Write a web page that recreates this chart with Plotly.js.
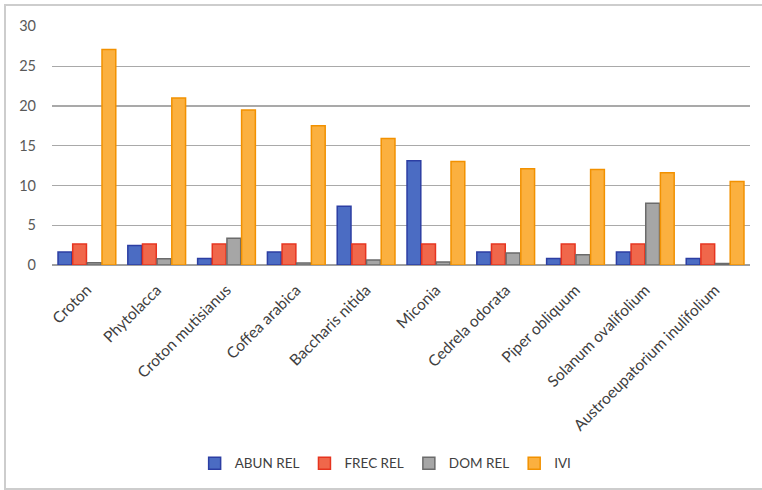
<!DOCTYPE html>
<html>
<head>
<meta charset="utf-8">
<script src="https://cdn.plot.ly/plotly-3.0.1.min.js"></script>
<style>
  html, body { margin: 0; padding: 0; background: #fff; overflow: hidden; }
  #wrap { position: relative; width: 762px; height: 490px; }
  #chart { position: absolute; left: 0; top: 0; width: 762px; height: 490px; }
  #frame {
    position: absolute; left: 4px; top: 4px; width: 780px; height: 482px;
    border: 2px solid #cdcdcd; border-right: none; pointer-events: none;
  }
</style>
</head>
<body>
<div id="wrap">
  <div id="chart"></div>
  <div id="frame"></div>
</div>
<script>
// Species (categories)
const species = [
  "Croton", "Phytolacca", "Croton mutisianus", "Coffea arabica", "Baccharis nitida",
  "Miconia", "Cedrela odorata", "Piper obliquum", "Solanum ovalifolium",
  "Austroeupatorium inulifolium"
];

// Relative abundance, frequency, dominance and importance value index
const abunRel = [1.64, 2.46, 0.82, 1.64, 7.38, 13.11, 1.64, 0.82, 1.64, 0.82];
const frecRel = [2.63, 2.63, 2.63, 2.63, 2.63, 2.63, 2.63, 2.63, 2.63, 2.63];
const domRel  = [0.28, 0.78, 3.35, 0.24, 0.63, 0.38, 1.52, 1.30, 7.76, 0.20];
const ivi     = [27.1, 21.0, 19.5, 17.5, 15.9, 13.0, 12.1, 12.0, 11.6, 10.5];

const seriesNames = ["ABUN REL", "FREC REL", "DOM REL", "IVI"];
const yTicks = [0, 5, 10, 15, 20, 25, 30];

const fills   = ["#4b6cc3", "#f0674b", "#a6a6a6", "#fbb03f"];
const borders = ["#2c3ea3", "#e6341f", "#6b6b6b", "#f29100"];
const values  = [abunRel, frecRel, domRel, ivi];

const traces = seriesNames.map((name, i) => ({
  type: "bar",
  name: name,
  x: species,
  y: values[i],
  marker: { color: fills[i], line: { color: borders[i], width: 1.5 } },
  hoverinfo: "x+y+name"
}));

const font = "Lato, 'Open Sans', 'Liberation Sans', sans-serif";

const layout = {
  width: 762,
  height: 490,
  paper_bgcolor: "#ffffff",
  plot_bgcolor: "#ffffff",
  margin: { l: 52, r: 12, t: 26, b: 225 },
  barmode: "group",
  bargap: 0.16,
  bargroupgap: 0.06,
  showlegend: true,
  legend: {
    orientation: "h",
    x: 0.478, xanchor: "center",
    y: -0.83, yanchor: "middle",
    font: { family: font, size: 13.5, color: "#404040" },
    itemwidth: 30
  },
  xaxis: {
    type: "category",
    tickangle: -45,
    tickfont: { family: font, size: 15.5, color: "#404040" },
    showgrid: false,
    showline: false,
    zeroline: false,
    ticks: "",
    ticklabelstandoff: 12
  },
  yaxis: {
    range: [0, 30.05],
    tickvals: yTicks,
    ticktext: yTicks.map(String),
    tickfont: { family: font, size: 14.5, color: "#595959" },
    showgrid: true,
    gridcolor: "#a9a9a9",
    gridwidth: 1.3,
    zeroline: true,
    zerolinecolor: "#a0a0a0",
    zerolinewidth: 1.5,
    showline: false,
    ticks: "",
    ticklabelstandoff: 15
  }
};

Plotly.newPlot("chart", traces, layout, { displayModeBar: false, staticPlot: true });
</script>
</body>
</html>
